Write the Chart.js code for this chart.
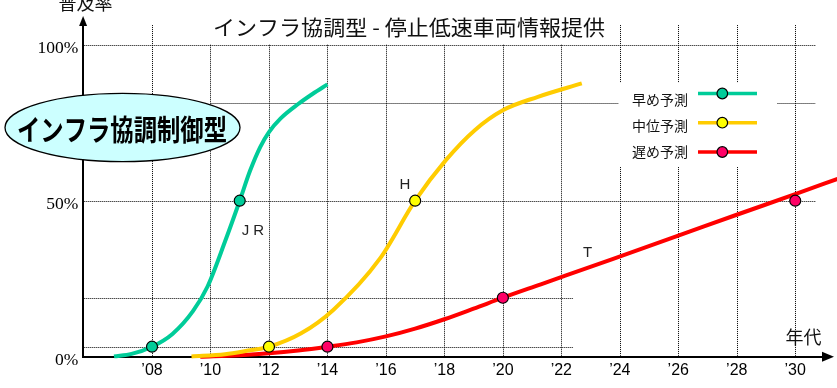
<!DOCTYPE html>
<html><head><meta charset="utf-8">
<script src="https://cdn.jsdelivr.net/npm/chart.js@4/dist/chart.umd.min.js"></script>
<style>html,body{margin:0;padding:0;background:#fff;}canvas{display:block}</style>
</head><body>
<canvas id="c" width="837" height="388"></canvas>
<script>
// ---- data ----
const earlyYears = [2006.7, 2007.3, 2008, 2008.7, 2009.4, 2009.9, 2010.5, 2011, 2011.35, 2011.7, 2012, 2012.4, 2013, 2013.5, 2014];
const earlyRate  = [0.1, 0.9, 3.2, 7.3, 14.6, 22.5, 37, 50, 59.5, 67.2, 72.0, 76.4, 81, 84.3, 87.3];
const midYears   = [2009.35, 2010.5, 2011.2, 2012, 2013.1, 2014.2, 2015.8, 2017, 2018.05, 2019.05, 2020, 2021.2, 2022.7];
const midRate    = [0.1, 0.8, 1.8, 3.2, 7.5, 15, 31.5, 50, 63, 72.7, 79, 83.3, 87.6];
const lateYears  = [2009.65, 2011, 2012, 2013, 2014, 2015, 2016, 2017, 2018, 2019, 2020, 2021.3, 2023.75, 2026, 2028, 2030, 2031.45];
const lateRate   = [0, 0.5, 1.1, 2, 3.2, 4.6, 6.5, 9.0, 12.0, 15.4, 18.9, 23.2, 31.3, 38.8, 45.5, 52.1, 57];
const earlyMarkYears = [2008, 2011];
const earlyMarkRate  = [3.2, 50];
const midMarkYears   = [2012, 2017];
const midMarkRate    = [3.2, 50];
const lateMarkYears  = [2014, 2020, 2030];
const lateMarkRate   = [3.2, 18.9, 50];
const seriesNames = ['早め予測', '中位予測', '遅め予測'];
const xTickYears  = [2008, 2010, 2012, 2014, 2016, 2018, 2020, 2022, 2024, 2026, 2028, 2030];
const xTickLabels = ['’08', '’10', '’12', '’14', '’16', '’18', '’20', '’22', '’24', '’26', '’28', '’30'];
const yTickValues = [0, 50, 100];
const yTickLabels = ['0%', '50%', '100%'];
const gridRates   = [3.2, 18.9, 50, 81.2, 100];
const curveLabels = ['J R', 'H', 'T'];
const curveLabelYears = [2011.45, 2016.65, 2022.9];
const curveLabelRates = [40.3, 55, 33.2];
const titleText = 'インフラ協調型 - 停止低速車両情報提供';
const yAxisTitle = '普及率';
const xAxisTitle = '年代';
const bubbleText = 'インフラ協調制御型';

// ---- styles ----
const GREEN = '#00CC99', YELLOW_LINE = '#FFCC00', YELLOW_PT = '#FFFF00', RED = '#FF0000', RED_PT = '#FF0066';
const JP = '"Noto Sans CJK JP", "Noto Sans", sans-serif';
const pts = (xs, ys) => xs.map((v, i) => ({x: v, y: ys[i]}));

const lineDs = (label, xs, ys, color) => ({
  type: 'line', label, data: pts(xs, ys), borderColor: color, borderWidth: 4,
  pointRadius: 0, fill: false, cubicInterpolationMode: 'monotone', clip: false, order: 2
});
const markDs = (label, xs, ys, fill) => ({
  type: 'scatter', label, data: pts(xs, ys), backgroundColor: fill, borderColor: '#000',
  borderWidth: 1.2, pointRadius: 5.5, showLine: false, clip: false, order: 1
});

function fitText(ctx, text, cx, cy, width) {
  const w = ctx.measureText(text).width;
  ctx.save(); ctx.translate(cx, cy); ctx.scale(width / w, 1);
  ctx.fillText(text, 0, 0); ctx.restore();
}

const deco = {
  id: 'deco',
  beforeDatasetsDraw(chart) {
    const {ctx, scales: {x, y}} = chart;
    ctx.save();
    ctx.strokeStyle = '#000'; ctx.lineWidth = 1; ctx.setLineDash([1, 1]);
    const rx = v => Math.round(x.getPixelForValue(v)) + 0.5;
    const ry = v => Math.round(y.getPixelForValue(v)) + 0.5;
    // vertical dotted grid
    xTickYears.forEach(yr => {
      const top = (yr === xTickYears[0] || yr >= 2024) ? 106.3 : gridRates[4];
      ctx.beginPath(); ctx.moveTo(rx(yr), y.getPixelForValue(top)); ctx.lineTo(rx(yr), y.getPixelForValue(0) - 1); ctx.stroke();
    });
    // horizontal dotted grid (partial, as in the reference)
    const xl = x.min, xr = 2030.7, xs = 2022.4;
    const spans = [[gridRates[0], xl, xs], [gridRates[1], xl, xs], [gridRates[2], xl, xr], [gridRates[3], 2010, xr], [gridRates[4], xl, xr]];
    spans.forEach(([v, a, b]) => {
      ctx.beginPath(); ctx.moveTo(x.getPixelForValue(a) + 1, ry(v)); ctx.lineTo(x.getPixelForValue(b), ry(v)); ctx.stroke();
    });
    ctx.setLineDash([]);
    // legend backdrop
    ctx.fillStyle = '#fff';
    ctx.fillRect(618.5, 83, 158.5, 84);
    ctx.restore();
  },
  afterDraw(chart) {
    const {ctx, scales: {x, y}} = chart;
    ctx.save();
    // axis arrowheads
    ctx.fillStyle = '#000';
    const ax = x.getPixelForValue(x.min) - 0.2;
    ctx.beginPath(); ctx.moveTo(ax, 16); ctx.lineTo(ax - 4, 26); ctx.lineTo(ax + 4, 26); ctx.closePath(); ctx.fill();
    const ay = y.getPixelForValue(0);
    ctx.beginPath(); ctx.moveTo(834, ay); ctx.lineTo(822, ay - 5); ctx.lineTo(822, ay + 5); ctx.closePath(); ctx.fill();
    // title & axis titles
    ctx.fillStyle = '#111';
    ctx.textAlign = 'center'; ctx.textBaseline = 'middle';
    ctx.font = '21px ' + JP;
    fitText(ctx, titleText, 409, 27, 392);
    ctx.font = '18px ' + JP;
    ctx.fillText(yAxisTitle, 85.5, 3);
    ctx.fillText(xAxisTitle, 803.5, 337);
    // curve labels
    ctx.font = '15px "Liberation Sans", Arial, sans-serif';
    ctx.fillStyle = '#222';
    curveLabels.forEach((t, i) => ctx.fillText(t, x.getPixelForValue(curveLabelYears[i]), y.getPixelForValue(curveLabelRates[i])));
    // legend
    const lineCols = [GREEN, YELLOW_LINE, RED], ptCols = [GREEN, YELLOW_PT, RED_PT];
    const textY = [100, 126, 152], lineY = [93.5, 122.7, 152];
    ctx.textAlign = 'left';
    ctx.font = '14px ' + JP;
    seriesNames.forEach((n, i) => {
      ctx.fillStyle = '#111';
      ctx.fillText(n, 632, textY[i]);
      ctx.strokeStyle = lineCols[i]; ctx.lineWidth = 3.5;
      ctx.beginPath(); ctx.moveTo(698, lineY[i]); ctx.lineTo(757, lineY[i]); ctx.stroke();
      ctx.fillStyle = ptCols[i]; ctx.strokeStyle = '#000'; ctx.lineWidth = 1.2;
      ctx.beginPath(); ctx.arc(722.3, lineY[i], 5.3, 0, Math.PI * 2); ctx.fill(); ctx.stroke();
    });
    // bubble label
    ctx.beginPath(); ctx.ellipse(122.5, 127.5, 117.5, 34.2, 0, 0, Math.PI * 2);
    ctx.fillStyle = '#CCFFFF'; ctx.fill();
    ctx.strokeStyle = '#000'; ctx.lineWidth = 1.3; ctx.stroke();
    ctx.font = 'bold 29px ' + JP;
    ctx.fillStyle = '#000'; ctx.textAlign = 'center';
    fitText(ctx, bubbleText, 122, 130, 210);
    ctx.restore();
  }
};

new Chart(document.getElementById('c'), {
  type: 'line',
  data: {
    datasets: [
      lineDs(seriesNames[0], earlyYears, earlyRate, GREEN),
      lineDs(seriesNames[1], midYears, midRate, YELLOW_LINE),
      lineDs(seriesNames[2], lateYears, lateRate, RED),
      markDs(seriesNames[0], earlyMarkYears, earlyMarkRate, GREEN),
      markDs(seriesNames[1], midMarkYears, midMarkRate, YELLOW_PT),
      markDs(seriesNames[2], lateMarkYears, lateMarkRate, RED_PT)
    ]
  },
  options: {
    responsive: false, animation: false, devicePixelRatio: 1,
    layout: {padding: {top: 22.9, right: 14, left: 0, bottom: 0}},
    plugins: {legend: {display: false}, tooltip: {enabled: false}, title: {display: false}},
    scales: {
      x: {
        type: 'linear', min: 2005.65, max: 2030.95,
        afterBuildTicks: s => { s.ticks = xTickYears.map(v => ({value: v})); },
        afterFit: s => { s.height = 31.3; },
        grid: {display: false, drawTicks: false},
        border: {display: true, color: '#000', width: 2},
        ticks: {
          padding: 4, color: '#000', maxRotation: 0, autoSkip: false,
          font: {family: '"Liberation Sans", Arial, sans-serif', size: 16},
          callback: v => xTickLabels[xTickYears.indexOf(v)]
        }
      },
      y: {
        type: 'linear', min: 0, max: 107,
        afterBuildTicks: s => { s.ticks = yTickValues.map(v => ({value: v})); },
        afterFit: s => { s.width = 83.3; },
        grid: {display: false, drawTicks: false},
        border: {display: true, color: '#000', width: 2},
        ticks: {
          padding: 5, color: '#000', labelOffset: 4,
          font: {family: '"Liberation Serif", "Times New Roman", serif', size: 17.5},
          callback: v => yTickLabels[yTickValues.indexOf(v)]
        }
      }
    }
  },
  plugins: [deco]
});
</script>
</body></html>
